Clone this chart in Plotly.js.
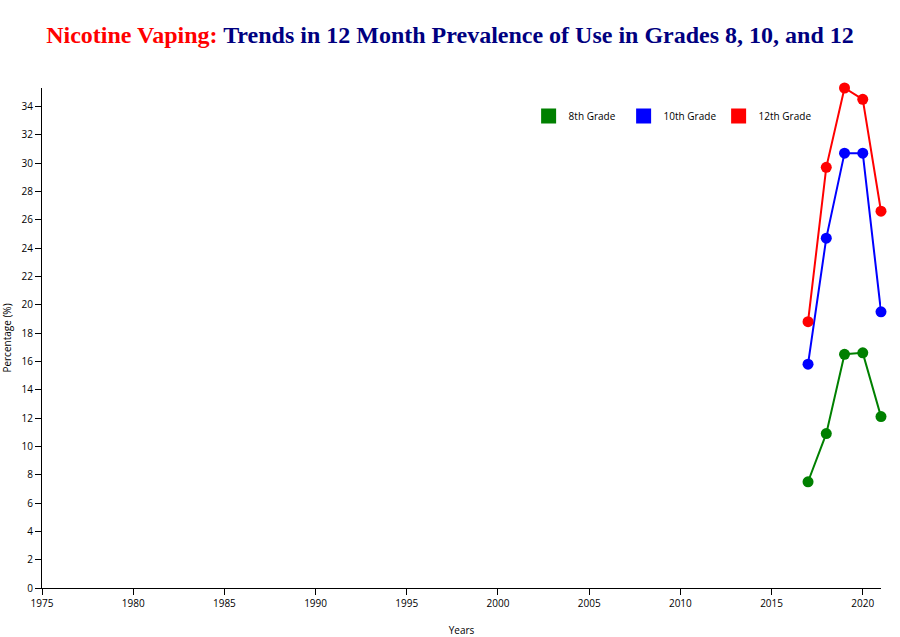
<!DOCTYPE html>
<html>
<head>
<meta charset="utf-8">
<script src="https://cdn.plot.ly/plotly-3.0.1.min.js"></script>
<style>body{margin:0;padding:0;background:#fff}#chart{width:900px;height:637px}</style>
</head>
<body>
<div id="chart"></div>
<script>
const years = [2017, 2018, 2019, 2020, 2021];
const grade8 = [7.5, 10.9, 16.5, 16.6, 12.1];
const grade10 = [15.8, 24.7, 30.7, 30.7, 19.5];
const grade12 = [18.8, 29.7, 35.3, 34.5, 26.6];
const seriesNames = ['8th Grade', '10th Grade', '12th Grade'];
const seriesColors = ['green', 'blue', 'red'];
const seriesData = [grade8, grade10, grade12];

const traces = [];
seriesData.forEach((vals, i) => {
  traces.push({
    x: years, y: vals, type: 'scatter', mode: 'lines+markers',
    line: {color: seriesColors[i], width: 2},
    marker: {color: seriesColors[i], size: 11},
    cliponaxis: false,
    showlegend: false, hoverinfo: 'x+y', name: seriesNames[i]
  });
});
seriesData.forEach((vals, i) => {
  traces.push({
    x: [null], y: [null], type: 'scatter', mode: 'markers',
    marker: {color: seriesColors[i], size: 15, symbol: 'square'},
    name: seriesNames[i], showlegend: true
  });
});

const layout = {
  width: 900, height: 637,
  margin: {l: 42, r: 19, t: 88, b: 49},
  paper_bgcolor: '#fff', plot_bgcolor: '#fff',
  font: {family: '"Open Sans", "DejaVu Sans", sans-serif', size: 10, color: '#000'},
  title: {
    text: '<span style="color:red">Nicotine Vaping:</span> <span style="color:#000080">Trends in 12 Month Prevalence of Use in Grades 8, 10, and 12</span>',
    font: {family: '"Liberation Serif", "Times New Roman", serif', size: 24, weight: 'bold'},
    x: 0.5, xanchor: 'center', y: 0.945, yanchor: 'middle'
  },
  xaxis: {
    range: [1975, 2021], dtick: 5, tick0: 1975,
    showgrid: false, zeroline: false, showline: true, linecolor: '#000', linewidth: 1,
    ticks: 'outside', ticklen: 6, tickcolor: '#000', tickfont: {size: 10},
    title: {text: 'Years', font: {size: 10}, standoff: 30}
  },
  yaxis: {
    range: [0, 35.3], dtick: 2, tick0: 0,
    showgrid: false, zeroline: false, showline: true, linecolor: '#000', linewidth: 1,
    ticks: 'outside', ticklen: 6, tickcolor: '#000', tickfont: {size: 10},
    title: {text: 'Percentage (%)', font: {size: 10}, standoff: 12}
  },
  legend: {
    orientation: 'h', x: 0.58, xanchor: 'left', y: 0.944, yanchor: 'middle',
    font: {size: 10}, bgcolor: 'rgba(0,0,0,0)', itemclick: false,
    entrywidth: 50, entrywidthmode: 'pixels'
  },
  showlegend: true
};

Plotly.newPlot('chart', traces, layout, {displayModeBar: false, staticPlot: true});
</script>
</body>
</html>
